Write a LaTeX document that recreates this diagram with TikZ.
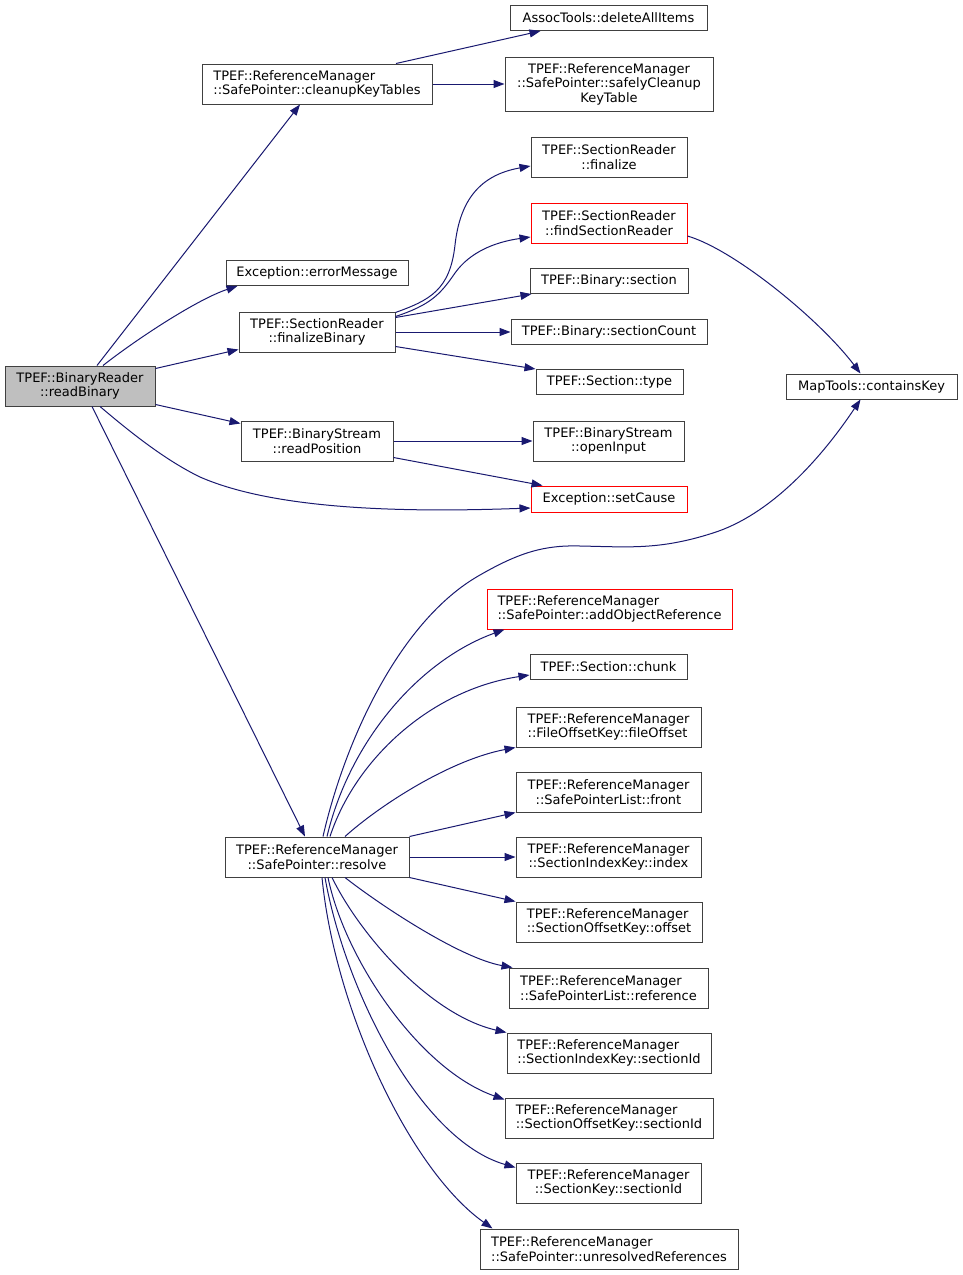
\documentclass[tikz,border=0pt]{standalone}
\usepackage{fontspec}
\setmainfont{DejaVu Sans}
\usetikzlibrary{arrows.meta,calc}
\definecolor{edgec}{HTML}{191970}
\definecolor{boxc}{HTML}{404040}
\definecolor{fillc}{HTML}{BFBFBF}
\begin{document}
\begin{tikzpicture}[x=1pt,y=-1pt,
  box/.style={draw=boxc, line width=1pt, inner sep=0pt, font=\fontsize{13}{14.5}\selectfont, align=center, fill=white},
  redbox/.style={box, draw=red},
  edge/.style={draw=edgec, line width=1pt, -{Triangle[length=11pt,width=8pt]}}]
\fill[white] (0,0) rectangle (963,1275);
\useasboundingbox (0,0) rectangle (963,1275);

\node[box, fill=fillc, minimum width=150pt, minimum height=40pt] (readBinary) at (80,386) {TPEF::BinaryReader\\::readBinary};
\node[box, align=left, minimum width=230pt, minimum height=40pt] (cleanup) at (317,84) {TPEF::ReferenceManager\\::SafePointer::cleanupKeyTables};
\node[box, minimum width=197pt, minimum height=25pt] (deleteAll) at (608.5,18) {AssocTools::deleteAllItems};
\node[box, minimum width=208pt, minimum height=54pt] (safely) at (609,84) {TPEF::ReferenceManager\\::SafePointer::safelyCleanup\\KeyTable};
\node[box, minimum width=182pt, minimum height=25pt] (errorMessage) at (317,273) {Exception::errorMessage};
\node[box, minimum width=156pt, minimum height=40pt] (finalizeBinary) at (317,332) {TPEF::SectionReader\\::finalizeBinary};
\node[box, minimum width=156pt, minimum height=40pt] (finalize) at (609,157) {TPEF::SectionReader\\::finalize};
\node[redbox, minimum width=156pt, minimum height=40pt] (findSR) at (609,223) {TPEF::SectionReader\\::findSectionReader};
\node[box, minimum width=158pt, minimum height=25pt] (section) at (609,281) {TPEF::Binary::section};
\node[box, minimum width=196pt, minimum height=25pt] (sectionCount) at (609,332) {TPEF::Binary::sectionCount};
\node[box, minimum width=147pt, minimum height=25pt] (type) at (609.5,382) {TPEF::Section::type};
\node[box, minimum width=171pt, minimum height=25pt] (containsKey) at (871.5,386.5) {MapTools::containsKey};
\node[box, minimum width=152pt, minimum height=40pt] (readPosition) at (317,441) {TPEF::BinaryStream\\::readPosition};
\node[box, minimum width=151pt, minimum height=40pt] (openInput) at (608.5,441) {TPEF::BinaryStream\\::openInput};
\node[redbox, minimum width=156pt, minimum height=26pt] (setCause) at (609,499) {Exception::setCause};
\node[box, minimum width=184pt, minimum height=40pt] (resolve) at (317,857) {TPEF::ReferenceManager\\::SafePointer::resolve};
\node[redbox, align=left, minimum width=245pt, minimum height=40pt] (addObj) at (609.5,609) {TPEF::ReferenceManager\\::SafePointer::addObjectReference};
\node[box, minimum width=157pt, minimum height=25pt] (chunk) at (608.5,667) {TPEF::Section::chunk};
\node[box, align=left, minimum width=185pt, minimum height=40pt] (fileOffset) at (608.5,727) {TPEF::ReferenceManager\\::FileOffsetKey::fileOffset};
\node[box, minimum width=185pt, minimum height=40pt] (front) at (608.5,792) {TPEF::ReferenceManager\\::SafePointerList::front};
\node[box, minimum width=185pt, minimum height=40pt] (index) at (608.5,857) {TPEF::ReferenceManager\\::SectionIndexKey::index};
\node[box, align=left, minimum width=186pt, minimum height=40pt] (offset) at (609,922) {TPEF::ReferenceManager\\::SectionOffsetKey::offset};
\node[box, align=left, minimum width=199pt, minimum height=40pt] (reference) at (608.5,988) {TPEF::ReferenceManager\\::SafePointerList::reference};
\node[box, align=left, minimum width=204pt, minimum height=40pt] (sidx) at (609,1053) {TPEF::ReferenceManager\\::SectionIndexKey::sectionId};
\node[box, align=left, minimum width=208pt, minimum height=40pt] (soff) at (609,1118) {TPEF::ReferenceManager\\::SectionOffsetKey::sectionId};
\node[box, minimum width=185pt, minimum height=40pt] (skey) at (608.5,1183) {TPEF::ReferenceManager\\::SectionKey::sectionId};
\node[box, align=left, minimum width=258pt, minimum height=40pt] (unres) at (609,1249) {TPEF::ReferenceManager\\::SafePointer::unresolvedReferences};

% readBinary
\draw[edge] ([xshift=17pt]readBinary.north) -- ([xshift=-17pt]cleanup.south);
\draw[edge] ([xshift=23pt]readBinary.north) .. controls (138,338) and (198,299) .. ([xshift=12pt]errorMessage.south west);
\draw[edge] ([yshift=-3pt]readBinary.north east) -- ([yshift=3pt]finalizeBinary.south west);
\draw[edge] ([yshift=2pt]readBinary.south east) -- ([yshift=-3pt]readPosition.north west);
\draw[edge] ([xshift=20pt]readBinary.south) .. controls (130,432) and (165,460) .. (200,477) .. controls (280,512) and (420,512) .. ([yshift=-9pt]setCause.west);
\draw[edge] ([xshift=12pt]readBinary.south) -- ([xshift=-12pt]resolve.north);

% cleanup
\draw[edge] ([xshift=79pt]cleanup.north) -- ([xshift=-68pt]deleteAll.south);
\draw[edge] (cleanup.east) -- (safely.west);

% finalizeBinary
\draw[edge] ([yshift=-1pt]finalizeBinary.north east) .. controls (430,300) and (450,290) .. (455,245) .. controls (460,200) and (480,175) .. ([yshift=-9pt]finalize.west);
\draw[edge] ([yshift=-5pt]finalizeBinary.north east) .. controls (430,305) and (440,295) .. (455,273) .. controls (470,252) and (495,242) .. ([yshift=-14pt]findSR.west);
\draw[edge] ([yshift=-6pt]finalizeBinary.north east) -- ([xshift=2pt]section.south west);
\draw[edge] (finalizeBinary.east) -- (sectionCount.west);
\draw[edge] ([yshift=6pt]finalizeBinary.south east) -- (type.north west);

% findSectionReader
\draw[edge] ([yshift=-13pt]findSR.east) .. controls (735,250) and (820,320) .. ([xshift=-11pt]containsKey.north);

% readPosition
\draw[edge] (readPosition.east) -- (openInput.west);
\draw[edge] ([yshift=4pt]readPosition.south east) -- ([xshift=12pt]setCause.north west);

% resolve
\draw[edge] ([xshift=6pt]resolve.north) .. controls (345,740) and (400,620) .. (480,575) .. controls (520,552) and (545,545) .. (580,546) .. controls (630,547) and (660,550) .. (713,533) .. controls (770,515) and (820,460) .. ([xshift=-11pt]containsKey.south);
\draw[edge] ([xshift=10pt]resolve.north) .. controls (350,740) and (420,660) .. ([xshift=18pt]addObj.south west);
\draw[edge] ([xshift=13pt]resolve.north) .. controls (355,760) and (430,690) .. ([yshift=-8pt]chunk.west);
\draw[edge] ([xshift=28pt]resolve.north) .. controls (380,805) and (450,760) .. (fileOffset.south west);
\draw[edge] (resolve.north east) -- (front.south west);
\draw[edge] (resolve.east) -- (index.west);
\draw[edge] (resolve.south east) -- (offset.north west);
\draw[edge] ([xshift=28pt]resolve.south) .. controls (380,905) and (460,958) .. ([xshift=4pt]reference.north west);
\draw[edge] ([xshift=15pt]resolve.south) .. controls (360,935) and (430,1015) .. (sidx.north west);
\draw[edge] ([xshift=11pt]resolve.south) .. controls (345,960) and (420,1070) .. ([yshift=-2pt]soff.north west);
\draw[edge] ([xshift=8pt]resolve.south) .. controls (345,990) and (420,1140) .. ([yshift=-5pt]skey.north west);
\draw[edge] ([xshift=5pt]resolve.south) .. controls (335,1010) and (410,1170) .. ([xshift=13pt]unres.north west);
\end{tikzpicture}
\end{document}
